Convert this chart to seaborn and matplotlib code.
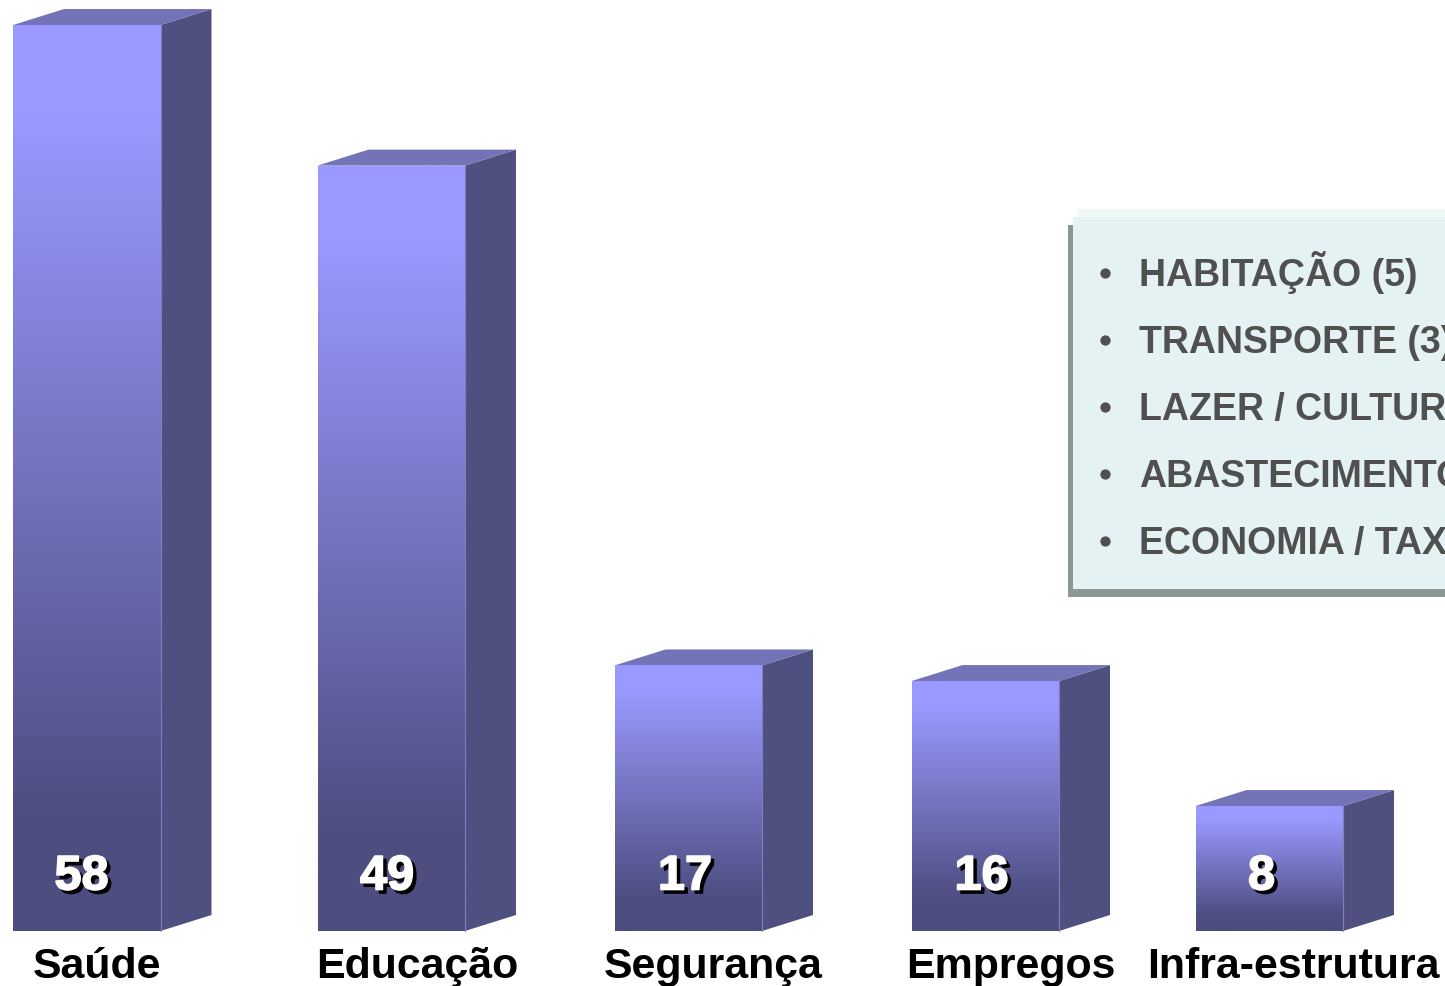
import numpy as np
import pandas as pd
import matplotlib
matplotlib.use("Agg")
import matplotlib.pyplot as plt
from matplotlib.colors import LinearSegmentedColormap
from matplotlib.patches import Polygon, Rectangle
import matplotlib.patheffects as pe
import seaborn as sns

# values
categories = ["Saúde", "Educação", "Segurança", "Empregos", "Infra-estrutura"]
values = [58, 49, 17, 16, 8]
box_items = ["HABITAÇÃO (5)", "TRANSPORTE (3)", "LAZER / CULTURA", "ABASTECIMENTO", "ECONOMIA / TAXAS"]

# layout, in picture pixels
W, H = 1445, 987
BASE_Y = 931
PX_PER_UNIT = 15.62
bar_centers = [87.25, 391.75, 688.75, 985.75, 1269.75]
label_centers = [97, 418, 713.5, 1011, 1294]
number_centers = [82, 387.5, 685.5, 982, 1262]
BAR_W = 147.5
DEPTH_X, DEPTH_Y = 51, 16


def py(y):
    # picture pixel row to value axis
    return (BASE_Y - y) / PX_PER_UNIT


sns.set_theme(style="white")
plt.rcParams["font.family"] = ["Liberation Sans", "DejaVu Sans"]

fig = plt.figure(figsize=(W / 100, H / 100), dpi=100)
ax = fig.add_axes([0, 0, 1, 1])

df = pd.DataFrame({"pos": bar_centers, "value": values})
sns.barplot(data=df, x="pos", y="value", native_scale=True, ax=ax,
            width=BAR_W / np.diff(bar_centers).min(), color="#9999FF")

grad = LinearSegmentedColormap.from_list(
    "bar", [(0, "#9999FF"), (0.1, "#9999FF"), (0.88, "#4D4D80"), (1, "#4D4D80")])
ramp = np.linspace(0, 1, 256).reshape(-1, 1)
dy = DEPTH_Y / PX_PER_UNIT

for bar in ax.patches:
    x0, w, h = bar.get_x(), bar.get_width(), bar.get_height()
    x1 = x0 + w
    bar.set_facecolor("none")
    bar.set_edgecolor("none")
    im = ax.imshow(ramp, cmap=grad, aspect="auto", extent=[x0, x1, 0, h], origin="upper", zorder=3)
    im.set_clip_path(bar)
    ax.add_patch(Polygon([(x1, 0), (x1 + DEPTH_X, dy), (x1 + DEPTH_X, h + dy), (x1, h)],
                         facecolor="#4F4F80", edgecolor="none", zorder=2))
    ax.add_patch(Polygon([(x0, h), (x1, h), (x1 + DEPTH_X, h + dy), (x0 + DEPTH_X, h + dy)],
                         facecolor="#7373B8", edgecolor="none", zorder=2))
    ax.plot([x1, x1], [0, h], color="#8080C0", lw=0.8, zorder=4)

for xc, v in zip(number_centers, values):
    ax.text(xc + 3.5, py(893), str(v), color="black", fontsize=35, fontweight="bold",
            ha="center", va="baseline", zorder=5,
            path_effects=[pe.withStroke(linewidth=1.2, foreground="black")])
    ax.text(xc, py(889.5), str(v), color="white", fontsize=35, fontweight="bold",
            ha="center", va="baseline", zorder=6,
            path_effects=[pe.withStroke(linewidth=1.2, foreground="white")])

for xc, name in zip(label_centers, categories):
    ax.text(xc, py(977.5), name, color="black", fontsize=30.9, fontweight="bold",
            ha="center", va="baseline", zorder=5)

# side box, runs off the right edge like the source slide
ax.add_patch(Rectangle((1078, py(217)), W, py(209) - py(217), facecolor="#EFF8F7", edgecolor="none", zorder=1))
ax.add_patch(Rectangle((1068, py(597)), W, py(225) - py(597), facecolor="#8C9694", edgecolor="none", zorder=1))
ax.add_patch(Rectangle((1073, py(589)), W, py(217) - py(589), facecolor="#E4F2F4", edgecolor="none", zorder=2))

for i, item in enumerate(box_items):
    base = 285 + i * 67
    ax.scatter([1105.5], [py(base - 12)], s=55, color="#505050", linewidths=0, zorder=5)
    ax.text(1139.5, py(base), item, color="#505050", fontsize=27, fontweight="bold",
            ha="left", va="baseline", zorder=5, clip_on=True)

ax.set_xlim(0.5, W + 0.5)
ax.set_ylim(py(H - 1), py(-1))
ax.axis("off")

fig.savefig("out.png", dpi=100)
